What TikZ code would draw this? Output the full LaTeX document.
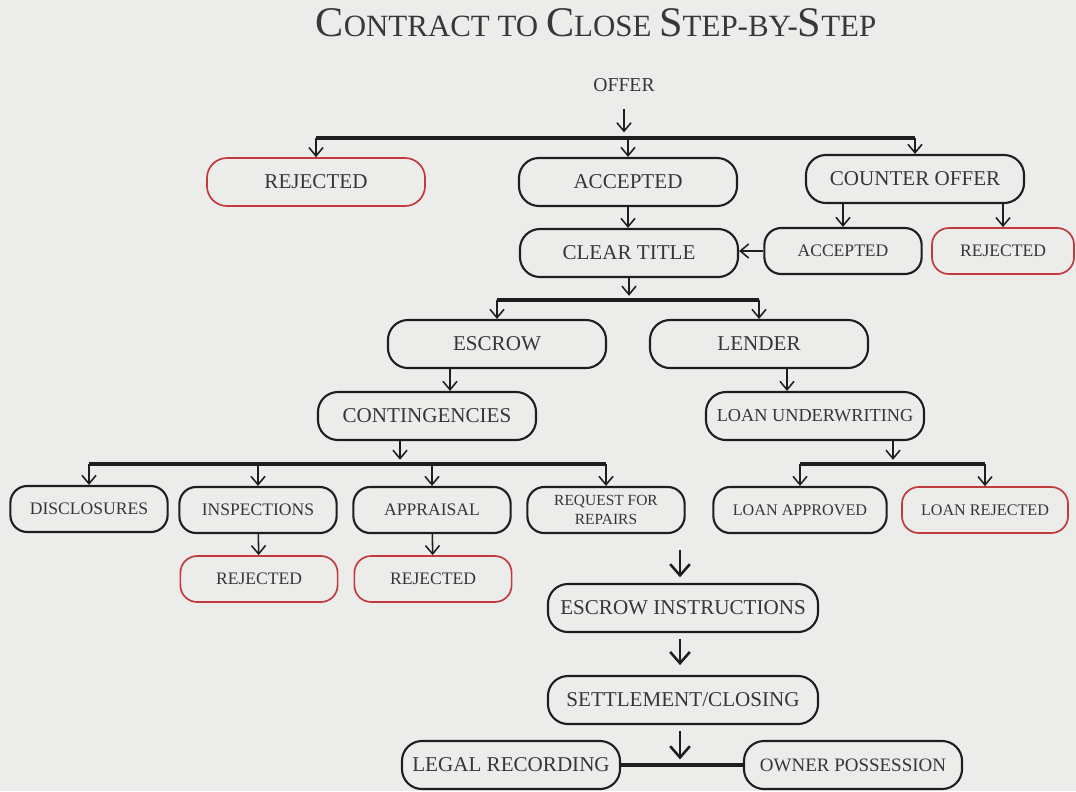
\documentclass[tikz,border=0pt]{standalone}
\usepackage{fontspec}
\setmainfont{Liberation Serif}
\usepackage{xcolor}
\usetikzlibrary{arrows.meta,positioning}

\definecolor{hgrund}{HTML}{ECECEB}
\definecolor{schrift}{HTML}{363636}
\definecolor{rand}{HTML}{1E1E1E}
\definecolor{rot}{HTML}{C23A3D}

\newcommand{\gross}[1]{{\fontsize{30}{30}\selectfont #1}}

\begin{document}
\begin{tikzpicture}[x=0.025cm, y=-0.025cm, inner sep=0pt, text=schrift,
	kasten/.style={draw=rand, line width=1.5pt, rounded corners=0.5cm, minimum width=5.45cm, minimum height=1.2cm, font=\fontsize{15}{15}\selectfont},
	kleinkasten/.style={kasten, rounded corners=0.42cm, minimum width=3.93cm, minimum height=1.15cm, font=\fontsize{12.5}{12.5}\selectfont},
	abgelehnt/.style={draw=rot, line width=1.2pt},
	pfeil/.style={-{Straight Barb[length=6pt,width=10pt]}, line width=1.1pt, draw=rand},
	grosspfeil/.style={-{Straight Barb[length=8pt,width=14pt]}, line width=1.8pt, draw=rand},
	balken/.style={line width=3.2pt, draw=rand}]

	\useasboundingbox (0,0) rectangle (1076,791);
	\fill[hgrund] (0,0) rectangle (1076,791);

	\node[font=\fontsize{22}{22}\selectfont, text=black!78](titel) at (596,23) {\gross{C}ONTRACT TO \gross{C}LOSE \gross{S}TEP-BY-\gross{S}TEP};
	\node[font=\fontsize{14}{14}\selectfont](offer) at (624,85) {OFFER};

	\node[kasten, abgelehnt](rej) at (316,182) {REJECTED};
	\node[kasten](acc) at (628,182) {ACCEPTED};
	\node[kasten](counter) at (915,179) {COUNTER OFFER};
	\node[kasten](clear) at (629,253) {CLEAR TITLE};
	\node[kleinkasten](acc2) at (843,251) {ACCEPTED};
	\node[kleinkasten, abgelehnt, minimum width=3.55cm](rej2) at (1003,251) {REJECTED};

	\node[kasten](escrow) at (497,344) {ESCROW};
	\node[kasten](lender) at (759,344) {LENDER};
	\node[kasten](cont) at (427,416) {CONTINGENCIES};
	\node[kasten, font=\fontsize{13}{13}\selectfont](underw) at (815,416) {LOAN UNDERWRITING};

	\node[kleinkasten](discl) at (89,509) {DISCLOSURES};
	\node[kleinkasten](insp) at (258,510) {INSPECTIONS};
	\node[kleinkasten](appr) at (432,510) {APPRAISAL};
	\node[kleinkasten, align=center, font=\fontsize{11}{13.5}\selectfont](repair) at (606,510) {REQUEST FOR\\REPAIRS};
	\node[kleinkasten, minimum width=4.33cm, font=\fontsize{11.5}{11.5}\selectfont](loanok) at (800,510) {LOAN APPROVED};
	\node[kleinkasten, abgelehnt, minimum width=4.15cm, font=\fontsize{11.5}{11.5}\selectfont](loanrej) at (985,510) {LOAN REJECTED};
	\node[kleinkasten, abgelehnt](insprej) at (259,579) {REJECTED};
	\node[kleinkasten, abgelehnt](apprrej) at (433,579) {REJECTED};

	\node[kasten, minimum width=6.75cm](instr) at (683,608) {ESCROW INSTRUCTIONS};
	\node[kasten, minimum width=6.75cm](settle) at (683,700) {SETTLEMENT/CLOSING};
	\node[kasten](legal) at (511,765) {LEGAL RECORDING};
	\node[kasten, font=\fontsize{13.5}{13.5}\selectfont](owner) at (853,765) {OWNER POSSESSION};

	% Gabelpunkte
	\coordinate (g1) at (624,138);
	\coordinate (g2) at (625,300);
	\coordinate (g3) at (400,464);
	\coordinate (g4) at (893,464);
	\coordinate (k1) at (450,0);
	\coordinate (k2) at (787,0);
	\coordinate (weiter) at (680,550);

	% oben
	\draw[pfeil, shorten <=12pt, shorten >=4pt](offer.south) -- (g1);
	\draw[balken](g1 -| rej) -- (g1 -| counter);
	\foreach \n in {rej, acc, counter} \draw[pfeil](g1 -| \n) -- (\n.north);
	\draw[pfeil](acc.south) -- (acc.south |- clear.north);
	\foreach \n in {acc2, rej2} \draw[pfeil](\n |- counter.south) -- (\n.north);
	\draw[pfeil](acc2.west) -- (acc2.west -| clear.east);

	% Mitte
	\draw[pfeil, shorten >=3pt](clear.south) -- (clear.south |- g2);
	\draw[balken](g2 -| escrow) -- (g2 -| lender);
	\foreach \n in {escrow, lender} \draw[pfeil](g2 -| \n) -- (\n.north);
	\draw[pfeil](k1 |- escrow.south) -- (k1 |- cont.north);
	\draw[pfeil](k2 |- lender.south) -- (k2 |- underw.north);

	\draw[pfeil, shorten >=3pt](g3 |- cont.south) -- (g3);
	\draw[balken](g3 -| discl) -- (g3 -| repair);
	\foreach \n in {discl, insp, appr, repair} \draw[pfeil](g3 -| \n) -- (\n.north);
	\draw[pfeil, shorten >=3pt](g4 |- underw.south) -- (g4);
	\draw[balken](g4 -| loanok) -- (g4 -| loanrej);
	\foreach \n in {loanok, loanrej} \draw[pfeil](g4 -| \n) -- (\n.north);
	\draw[pfeil](insp) -- (insprej);
	\draw[pfeil](appr) -- (apprrej);

	% unten
	\draw[grosspfeil, shorten >=4pt](weiter) -- (weiter |- instr.north);
	\draw[grosspfeil, shorten <=4pt, shorten >=7pt](instr.south -| weiter) -- (settle.north -| weiter);
	\draw[grosspfeil, shorten <=4pt, shorten >=4pt](settle.south -| weiter) -- (weiter |- legal.east);
	\draw[balken](legal) -- (owner);

\end{tikzpicture}
\end{document}
